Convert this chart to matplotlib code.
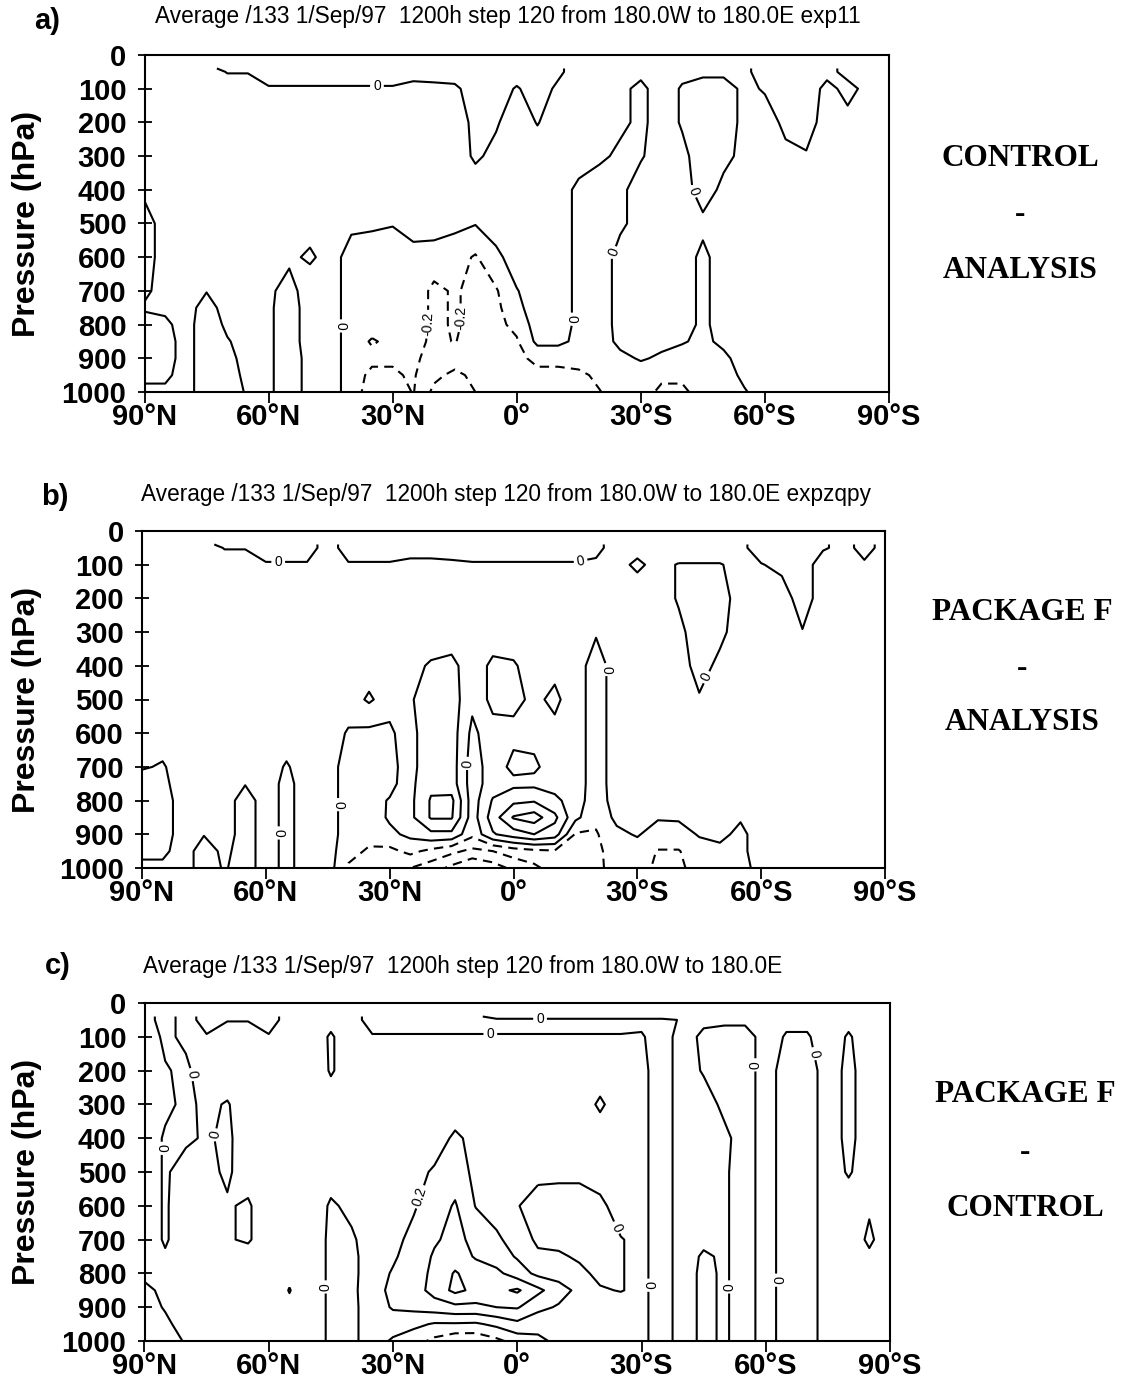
import numpy as np
import matplotlib
matplotlib.use("Agg")
import matplotlib.pyplot as plt

plt.rcParams['font.family'] = ['Liberation Sans', 'DejaVu Sans']
plt.rcParams['lines.dashed_pattern'] = [4.5, 3.0]

# ---------------------------------------------------------------
# zonal-mean difference fields, one list per latitude (90N .. 90S),
# values at the pressure levels below (hPa)
# ---------------------------------------------------------------
lats = [90, 85, 80, 75, 70, 65, 60, 55, 50, 45, 40, 35, 30, 25, 20, 15, 10, 5, 0,
        -5, -10, -15, -20, -25, -30, -35, -40, -45, -50, -55, -60, -65, -70, -75,
        -80, -85, -90]
pres = [40, 50, 100, 200, 300, 400, 500, 600, 700, 750, 800, 850, 900, 950, 1000]

# a) control - analysis
diff_a = [
    [0.05, 0.05, 0.05, 0.1, 0.1, 0.05, -0.1, -0.1, -0.05, 0.03, -0.1, -0.15, -0.1, -0.05, 0.05],   # 90N
    [0.05, 0.05, 0.05, 0.1, 0.1, 0.1, 0.1, 0.1, 0.1, 0.05, -0.05, -0.1, -0.1, -0.05, 0.05],
    [0.05, 0.05, 0.05, 0.1, 0.1, 0.1, 0.1, 0.1, 0.1, 0.1, 0.1, 0.1, 0.1, 0.1, 0.1],
    [0.05, 0.05, 0.05, 0.1, 0.1, 0.1, 0.1, 0.1, 0.01, -0.1, -0.15, -0.15, -0.15, -0.15, -0.15],
    [-0.05, -0.005, 0.05, 0.1, 0.1, 0.1, 0.1, 0.1, 0.1, 0.1, 0.05, -0.02, -0.08, -0.08, -0.08],
    [-0.05, -0.005, 0.05, 0.1, 0.1, 0.1, 0.1, 0.1, 0.1, 0.1, 0.1, 0.1, 0.1, 0.05, 0.02],
    [-0.05, -0.05, 0.01, 0.1, 0.1, 0.1, 0.1, 0.1, 0.05, 0.05, 0.05, 0.05, 0.05, 0.05, 0.05],      # 60N
    [-0.05, -0.05, 0.01, 0.1, 0.1, 0.1, 0.1, 0.05, -0.1, -0.15, -0.15, -0.15, -0.15, -0.15, -0.15],
    [-0.05, -0.05, 0.01, 0.1, 0.1, 0.1, 0.1, -0.04, 0.15, 0.15, 0.15, 0.15, 0.1, 0.1, 0.1],
    [-0.05, -0.05, 0.01, 0.1, 0.1, 0.1, 0.1, 0.1, 0.1, 0.1, 0.1, 0.1, 0.1, 0.1, 0.1],
    [-0.05, -0.05, 0.01, 0.1, 0.1, 0.1, 0.05, -0.1, -0.1, -0.1, -0.1, -0.1, -0.1, -0.1, -0.1],
    [-0.05, -0.05, 0.01, 0.1, 0.1, 0.1, 0.03, -0.1, -0.1, -0.1, -0.12, -0.22, -0.15, -0.25, -0.3],
    [-0.05, -0.05, 0.01, 0.1, 0.1, 0.1, 0.01, -0.1, -0.15, -0.12, -0.1, -0.15, -0.18, -0.22, -0.3],  # 30N
    [-0.05, -0.05, 0.04, 0.1, 0.1, 0.1, 0.06, -0.05, -0.1, -0.1, -0.1, -0.12, -0.15, -0.18, -0.19],
    [-0.05, -0.05, 0.03, 0.1, 0.1, 0.1, 0.1, -0.1, -0.24, -0.24, -0.24, -0.25, -0.3, -0.35, -0.45],
    [-0.05, -0.05, 0.02, 0.1, 0.1, 0.1, 0.05, -0.12, -0.18, -0.18, -0.18, -0.19, -0.3, -0.45, -0.5],
    [-0.05, -0.05, -0.05, -0.05, -0.03, 0.1, 0.01, -0.22, -0.25, -0.25, -0.25, -0.3, -0.3, -0.35, -0.4],
    [-0.05, -0.05, -0.05, -0.02, 0.05, 0.05, 0.1, -0.05, -0.22, -0.25, -0.25, -0.25, -0.25, -0.3, -0.3],
    [-0.05, -0.05, 0.01, 0.1, 0.1, 0.1, 0.1, 0.1, -0.01, -0.05, -0.15, -0.22, -0.25, -0.25, -0.25],   # EQ
    [-0.05, -0.05, -0.05, -0.01, 0.1, 0.1, 0.1, 0.1, 0.1, 0.1, 0.1, 0.05, -0.15, -0.25, -0.25],
    [-0.02, -0.02, 0.02, 0.1, 0.1, 0.1, 0.1, 0.1, 0.1, 0.1, 0.1, 0.05, -0.15, -0.25, -0.3],
    [0.05, 0.05, 0.05, 0.1, 0.1, -0.05, -0.05, -0.05, -0.05, -0.05, -0.05, -0.05, -0.1, -0.25, -0.3],
    [0.05, 0.05, 0.05, 0.1, 0.05, -0.15, -0.15, -0.15, -0.15, -0.15, -0.15, -0.1, -0.1, -0.15, -0.21],
    [0.05, 0.05, 0.05, 0.05, -0.05, -0.05, -0.05, 0.1, 0.1, 0.1, 0.1, 0.05, -0.05, -0.1, -0.1],
    [0.05, 0.05, -0.05, -0.05, -0.02, 0.1, 0.1, 0.1, 0.1, 0.1, 0.1, 0.1, 0.02, -0.1, -0.1],          # 30S
    [0.05, 0.05, 0.1, 0.1, 0.1, 0.1, 0.1, 0.1, 0.1, 0.1, 0.1, 0.05, -0.03, -0.15, -0.25],
    [0.05, 0.05, -0.02, -0.02, 0.05, 0.1, 0.1, 0.1, 0.1, 0.1, 0.1, 0.02, -0.1, -0.15, -0.25],
    [0.05, 0.05, -0.1, -0.1, -0.1, -0.1, 0.05, -0.05, -0.05, -0.05, -0.05, -0.05, -0.1, -0.1, -0.1],
    [0.05, 0.05, -0.1, -0.1, -0.05, 0.05, 0.1, 0.1, 0.1, 0.1, 0.1, 0.05, -0.05, -0.1, -0.1],
    [0.05, 0.05, 0.05, 0.05, 0.05, 0.1, 0.1, 0.1, 0.1, 0.1, 0.1, 0.1, 0.1, 0.05, -0.02],
    [-0.1, -0.1, -0.02, 0.1, 0.1, 0.1, 0.1, 0.1, 0.1, 0.1, 0.1, 0.1, 0.1, 0.1, 0.1],                 # 60S
    [-0.1, -0.1, -0.1, -0.05, 0.05, 0.1, 0.1, 0.1, 0.1, 0.1, 0.1, 0.1, 0.1, 0.1, 0.1],
    [-0.1, -0.1, -0.1, -0.1, 0.02, 0.1, 0.1, 0.1, 0.1, 0.1, 0.1, 0.1, 0.1, 0.1, 0.1],
    [-0.05, -0.05, 0.05, 0.1, 0.1, 0.1, 0.1, 0.1, 0.1, 0.1, 0.1, 0.1, 0.1, 0.1, 0.1],
    [0.05, 0.05, -0.05, 0.05, 0.1, 0.1, 0.1, 0.1, 0.1, 0.1, 0.1, 0.1, 0.1, 0.1, 0.1],
    [0.05, 0.05, 0.05, 0.1, 0.1, 0.1, 0.1, 0.1, 0.1, 0.1, 0.1, 0.1, 0.1, 0.1, 0.1],
    [0.05, 0.05, 0.05, 0.1, 0.1, 0.1, 0.1, 0.1, 0.1, 0.1, 0.1, 0.1, 0.1, 0.1, 0.1],                  # 90S
]

# b) package F - analysis
diff_b = [
    [0.05, 0.05, 0.05, 0.1, 0.1, 0.1, 0.1, 0.1, 0.02, -0.1, -0.1, -0.15, -0.1, -0.05, 0.05],     # 90N
    [0.05, 0.05, 0.05, 0.1, 0.1, 0.1, 0.1, 0.1, -0.02, -0.05, -0.1, -0.1, -0.1, -0.05, 0.05],
    [0.05, 0.05, 0.05, 0.1, 0.1, 0.1, 0.1, 0.1, 0.1, 0.1, 0.1, 0.1, 0.1, 0.1, 0.1],
    [0.05, 0.05, 0.05, 0.1, 0.1, 0.1, 0.1, 0.1, 0.1, 0.1, 0.1, 0.1, 0.01, -0.1, -0.1],
    [-0.05, -0.005, 0.05, 0.1, 0.1, 0.1, 0.1, 0.1, 0.1, 0.1, 0.1, 0.1, 0.1, 0.05, 0.02],
    [-0.05, -0.005, 0.05, 0.1, 0.1, 0.1, 0.1, 0.1, 0.1, 0.01, -0.1, -0.1, -0.1, -0.1, -0.1],
    [-0.05, -0.05, 0.01, 0.1, 0.1, 0.1, 0.1, 0.1, 0.1, 0.1, 0.1, 0.1, 0.1, 0.1, 0.1],            # 60N
    [-0.05, -0.05, 0.01, 0.1, 0.1, 0.1, 0.1, 0.1, -0.02, -0.06, -0.06, -0.06, -0.06, -0.06, -0.06],
    [-0.05, -0.05, 0.01, 0.1, 0.1, 0.1, 0.1, 0.1, 0.1, 0.1, 0.1, 0.1, 0.1, 0.1, 0.1],
    [0.05, 0.05, 0.05, 0.1, 0.1, 0.1, 0.1, 0.1, 0.1, 0.1, 0.1, 0.1, 0.1, 0.1, 0.1],
    [-0.05, -0.05, 0.01, 0.1, 0.1, 0.1, 0.1, -0.02, -0.1, -0.1, -0.1, -0.1, -0.1, -0.15, -0.22],
    [-0.05, -0.05, 0.01, 0.1, 0.1, 0.1, 0.23, -0.05, -0.1, -0.1, -0.1, -0.12, -0.15, -0.22, -0.25],
    [-0.05, -0.05, 0.01, 0.1, 0.1, 0.1, 0.1, -0.05, -0.1, -0.08, 0.02, 0.03, -0.05, -0.25, -0.32],  # 30N
    [-0.05, -0.05, 0.03, 0.1, 0.1, 0.15, 0.18, 0.15, 0.15, 0.15, 0.15, 0.15, 0.05, -0.15, -0.4],
    [-0.05, -0.05, 0.03, 0.1, 0.1, 0.22, 0.3, 0.3, 0.3, 0.35, 0.42, 0.42, 0.15, -0.25, -0.5],
    [-0.05, -0.05, 0.02, 0.1, 0.1, 0.25, 0.3, 0.3, 0.3, 0.3, 0.45, 0.42, 0.15, -0.35, -0.65],
    [-0.05, -0.05, 0.01, 0.1, 0.1, 0.1, 0.05, -0.05, -0.1, -0.1, -0.1, -0.1, -0.15, -0.45, -0.8],
    [-0.05, -0.05, 0.01, 0.1, 0.1, 0.24, 0.26, 0.12, 0.1, 0.1, 0.22, 0.3, 0.18, -0.4, -0.7],
    [-0.05, -0.05, 0.01, 0.1, 0.1, 0.22, 0.25, 0.15, 0.25, 0.15, 0.35, 0.62, 0.3, -0.3, -0.55],  # EQ
    [-0.05, -0.05, 0.01, 0.1, 0.1, 0.12, 0.16, 0.15, 0.23, 0.15, 0.38, 0.7, 0.4, -0.25, -0.45],
    [-0.05, -0.05, 0.01, 0.1, 0.1, 0.15, 0.24, 0.15, 0.12, 0.12, 0.25, 0.45, 0.3, -0.22, -0.3],
    [-0.05, -0.05, 0.01, 0.1, 0.1, 0.1, 0.1, 0.1, 0.1, 0.1, 0.1, 0.05, -0.22, -0.25, -0.25],
    [-0.03, -0.03, 0.02, 0.1, 0.02, -0.1, -0.1, -0.1, -0.1, -0.1, -0.12, -0.15, -0.22, -0.25, -0.25],
    [0.05, 0.05, 0.05, 0.1, 0.1, 0.1, 0.1, 0.1, 0.1, 0.1, 0.1, 0.05, -0.05, -0.1, -0.12],
    [0.05, 0.05, -0.03, 0.1, 0.1, 0.1, 0.1, 0.1, 0.1, 0.1, 0.1, 0.1, 0.02, -0.1, -0.1],          # 30S
    [0.05, 0.05, 0.05, 0.1, 0.1, 0.1, 0.1, 0.1, 0.1, 0.1, 0.1, 0.02, -0.1, -0.21, -0.25],
    [0.1, 0.1, -0.01, -0.02, 0.05, 0.1, 0.1, 0.1, 0.1, 0.1, 0.1, 0.03, -0.1, -0.21, -0.25],
    [0.1, 0.1, -0.01, -0.1, -0.1, -0.08, 0.02, 0.1, 0.1, 0.1, 0.1, 0.1, 0.02, -0.1, -0.1],
    [0.1, 0.1, -0.01, -0.1, -0.05, 0.05, 0.1, 0.1, 0.1, 0.1, 0.1, 0.1, 0.05, -0.05, -0.1],
    [0.05, 0.05, 0.05, 0.1, 0.1, 0.1, 0.1, 0.1, 0.1, 0.1, 0.1, 0.02, -0.05, -0.05, -0.05],
    [-0.1, -0.1, 0.01, 0.1, 0.1, 0.1, 0.1, 0.1, 0.1, 0.1, 0.1, 0.1, 0.1, 0.1, 0.05],             # 60S
    [-0.1, -0.1, -0.05, 0.1, 0.1, 0.1, 0.1, 0.1, 0.1, 0.1, 0.1, 0.1, 0.1, 0.1, 0.1],
    [-0.1, -0.1, -0.1, -0.1, 0.01, 0.1, 0.1, 0.1, 0.1, 0.1, 0.1, 0.1, 0.1, 0.1, 0.1],
    [-0.02, -0.02, 0.1, 0.1, 0.1, 0.1, 0.1, 0.1, 0.1, 0.1, 0.1, 0.1, 0.1, 0.1, 0.1],
    [0.05, 0.05, 0.1, 0.1, 0.1, 0.1, 0.1, 0.1, 0.1, 0.1, 0.1, 0.1, 0.1, 0.1, 0.1],
    [-0.05, -0.05, 0.02, 0.1, 0.1, 0.1, 0.1, 0.1, 0.1, 0.1, 0.1, 0.1, 0.1, 0.1, 0.1],
    [0.05, 0.05, 0.1, 0.1, 0.1, 0.1, 0.1, 0.1, 0.1, 0.1, 0.1, 0.1, 0.1, 0.1, 0.1],               # 90S
]

# c) package F - control
diff_c = [
    [0.05, 0.05, 0.15, 0.15, 0.15, 0.15, 0.15, 0.15, 0.15, 0.1, 0.05, -0.05, -0.1, -0.1, -0.1],   # 90N
    [-0.05, -0.05, -0.05, 0.02, 0.05, -0.03, -0.03, -0.03, -0.03, 0.03, 0.1, 0.05, 0.02, -0.05, -0.1],
    [0.05, 0.05, 0.05, -0.05, -0.05, -0.04, 0.1, 0.15, 0.15, 0.15, 0.15, 0.15, 0.15, 0.1, 0.02],
    [-0.05, -0.05, 0.01, 0.15, 0.05, 0.03, 0.05, 0.15, 0.15, 0.15, 0.15, 0.15, 0.15, 0.15, 0.15],
    [-0.05, -0.005, 0.05, 0.15, -0.02, -0.05, -0.03, 0.02, 0.02, 0.05, 0.1, 0.15, 0.15, 0.15, 0.15],
    [-0.05, -0.005, 0.05, 0.15, 0.15, 0.15, 0.1, -0.03, -0.03, 0.1, 0.15, 0.15, 0.15, 0.15, 0.15],
    [-0.05, -0.05, 0.01, 0.15, 0.15, 0.15, 0.15, 0.15, 0.15, 0.15, 0.15, 0.15, 0.15, 0.15, 0.15],  # 60N
    [0.05, 0.05, 0.1, 0.15, 0.15, 0.15, 0.15, 0.15, 0.15, 0.15, 0.05, -0.01, 0.05, 0.15, 0.15],
    [0.05, 0.05, 0.1, 0.15, 0.15, 0.15, 0.15, 0.15, 0.15, 0.15, 0.15, 0.15, 0.15, 0.15, 0.15],
    [0.05, 0.05, -0.02, -0.02, 0.1, 0.1, 0.1, -0.03, -0.05, -0.05, -0.05, -0.05, -0.05, -0.05, -0.05],
    [0.05, 0.05, 0.1, 0.1, 0.1, 0.1, 0.1, 0.05, -0.03, -0.05, -0.05, -0.05, -0.05, -0.05, -0.05],
    [-0.05, -0.05, 0.01, 0.1, 0.1, 0.1, 0.1, 0.1, 0.1, 0.1, 0.1, 0.12, 0.1, 0.1, 0.1],
    [-0.05, -0.05, 0.01, 0.1, 0.1, 0.1, 0.1, 0.12, 0.15, 0.17, 0.22, 0.25, 0.22, 0.1, -0.03],     # 30N
    [-0.05, -0.05, 0.01, 0.1, 0.1, 0.1, 0.15, 0.18, 0.25, 0.3, 0.3, 0.3, 0.25, 0.05, -0.12],
    [-0.05, -0.05, 0.01, 0.1, 0.1, 0.12, 0.22, 0.3, 0.38, 0.42, 0.45, 0.48, 0.3, -0.02, -0.25],
    [-0.05, -0.05, 0.01, 0.1, 0.1, 0.23, 0.3, 0.42, 0.45, 0.5, 0.62, 0.65, 0.35, -0.02, -0.35],
    [-0.05, -0.05, 0.01, 0.1, 0.1, 0.15, 0.15, 0.19, 0.35, 0.38, 0.5, 0.55, 0.35, -0.03, -0.35],
    [0.1, -0.05, 0.01, 0.1, 0.1, 0.1, 0.12, 0.15, 0.22, 0.3, 0.45, 0.55, 0.4, 0.05, -0.25],
    [0.1, -0.05, 0.01, 0.1, 0.1, 0.1, 0.1, 0.01, 0.15, 0.18, 0.3, 0.63, 0.42, 0.15, -0.12],       # EQ
    [0.1, -0.05, 0.01, 0.1, 0.1, 0.1, 0.05, -0.08, -0.05, 0.05, 0.15, 0.45, 0.25, 0.08, -0.05],
    [0.1, -0.05, 0.01, 0.1, 0.1, 0.1, 0.05, -0.1, -0.06, 0.03, 0.12, 0.28, 0.18, 0.1, 0.05],
    [0.1, -0.05, 0.01, 0.1, 0.1, 0.1, 0.05, -0.1, -0.1, -0.03, 0.05, 0.15, 0.1, 0.1, 0.05],
    [0.1, -0.05, 0.01, 0.1, -0.03, 0.1, 0.1, -0.05, -0.1, -0.1, -0.05, 0.02, 0.1, 0.1, 0.1],
    [0.1, -0.05, 0.01, 0.1, 0.1, 0.1, 0.1, 0.1, -0.01, -0.01, -0.01, -0.01, 0.1, 0.1, 0.1],
    [0.1, -0.05, 0.02, 0.05, 0.05, 0.05, 0.05, 0.05, 0.05, 0.05, 0.05, 0.05, 0.05, 0.05, 0.05],  # 30S
    [0.1, -0.05, -0.1, -0.1, -0.1, -0.1, -0.1, -0.1, -0.1, -0.1, -0.1, -0.1, -0.1, -0.1, -0.1],
    [0.02, 0.02, 0.1, 0.1, 0.1, 0.1, 0.1, 0.1, 0.1, 0.1, 0.1, 0.1, 0.1, 0.1, 0.1],
    [0.05, 0.05, -0.05, -0.02, 0.1, 0.1, 0.1, 0.1, 0.05, -0.03, -0.05, -0.05, -0.05, -0.05, -0.05],
    [0.05, 0.05, -0.1, -0.1, -0.05, 0.05, 0.03, 0.03, 0.03, 0.03, 0.03, 0.03, 0.03, 0.03, 0.03],
    [0.05, 0.05, -0.1, -0.1, -0.1, -0.1, -0.1, -0.1, -0.1, -0.1, -0.1, -0.1, -0.1, -0.1, -0.1],
    [0.05, 0.05, 0.1, 0.1, 0.1, 0.1, 0.1, 0.1, 0.1, 0.1, 0.1, 0.1, 0.1, 0.1, 0.1],               # 60S
    [0.05, 0.05, -0.02, -0.1, -0.1, -0.1, -0.1, -0.1, -0.1, -0.1, -0.1, -0.1, -0.1, -0.1, -0.1],
    [0.05, 0.05, -0.02, -0.1, -0.1, -0.1, -0.1, -0.1, -0.1, -0.1, -0.1, -0.1, -0.1, -0.1, -0.1],
    [0.05, 0.05, 0.1, 0.1, 0.1, 0.1, 0.1, 0.1, 0.1, 0.1, 0.1, 0.1, 0.1, 0.1, 0.1],
    [0.05, 0.05, -0.02, -0.05, -0.05, -0.05, -0.02, 0.1, 0.1, 0.1, 0.1, 0.1, 0.1, 0.1, 0.1],
    [0.05, 0.05, 0.1, 0.1, 0.1, 0.1, 0.1, 0.02, -0.03, 0.03, 0.1, 0.1, 0.1, 0.1, 0.1],
    [0.05, 0.05, 0.1, 0.1, 0.1, 0.1, 0.1, 0.1, 0.1, 0.1, 0.1, 0.1, 0.1, 0.1, 0.1],               # 90S
]

contour_levels = [-1.0, -0.8, -0.6, -0.4, -0.2, 0.0, 0.2, 0.4, 0.6, 0.8]
lat_ticks = [90, 60, 30, 0, -30, -60, -90]
lat_labels = ['90°N', '60°N', '30°N', '0°', '30°S', '60°S', '90°S']
p_ticks = [0, 100, 200, 300, 400, 500, 600, 700, 800, 900, 1000]

title_base = 'Average /133 1/Sep/97  1200h step 120 from 180.0W to 180.0E'

panels = [
    dict(field=diff_a, tag='a)', title=title_base + ' exp11',
         box=(144.5, 55, 889, 392), tag_xy=(47, 21), title_xy=(155, 16),
         side=['CONTROL', '-', 'ANALYSIS'], side_y=[158, 215, 270], side_x=1020,
         clab=[(33.8, 93), (42.2, 804), (-14.1, 784), (-23.4, 586), (-43.6, 400),
               (21.2, 799), (13.6, 780)]),
    dict(field=diff_b, tag='b)', title=title_base + ' expzqpy',
         box=(142, 531, 885, 868), tag_xy=(55, 497), title_xy=(141, 495),
         side=['PACKAGE F', '-', 'ANALYSIS'], side_y=[612, 668, 723], side_x=1022,
         clab=[(57, 92), (57.5, 896), (42.5, 812), (10.7, 690), (-16.3, 92),
               (-22.5, 411), (-46, 430)]),
    dict(field=diff_c, tag='c)', title=title_base,
         box=(144.5, 1003, 890, 1341), tag_xy=(58, 966), title_xy=(143, 967),
         side=['PACKAGE F', '-', 'CONTROL'], side_y=[1095, 1152, 1208], side_x=1025,
         clab=[(86.1, 430), (77.6, 210), (70.9, 395), (46.2, 840), (23.6, 573),
               (6.5, 92), (-5.5, 46), (-23.5, 667), (-30.8, 835), (-51.5, 840),
               (-57, 183), (-62.5, 820), (-72.5, 148)]),
]

W, H = 1135, 1381
fig = plt.figure(figsize=(W / 100, H / 100), dpi=100)


def fmt(v):
    return '{:g}'.format(round(v, 1) + 0.0)


for pnl in panels:
    left, top, right, bottom = pnl['box']
    ax = fig.add_axes([left / W, 1 - bottom / H, (right - left) / W, (bottom - top) / H])

    z = np.array(pnl['field']).T
    cs = ax.contour(lats, pres, z, levels=contour_levels, colors='k',
                    linewidths=1.5, negative_linestyles='dashed')
    ax.clabel(cs, manual=pnl['clab'], inline=True, inline_spacing=3,
              fontsize=10, fmt=fmt)

    ax.set_xlim(90, -90)
    ax.set_ylim(1000, 0)
    ax.set_xticks(lat_ticks)
    ax.set_xticklabels(lat_labels, fontsize=21, fontweight='bold')
    ax.set_yticks(p_ticks)
    ax.set_yticklabels([str(p) for p in p_ticks], fontsize=21, fontweight='bold')
    ax.tick_params(axis='x', direction='out', length=8, width=1.3, pad=0)
    ax.tick_params(axis='y', direction='inout', length=10, width=1.3, pad=8)
    for sp in ax.spines.values():
        sp.set_linewidth(1.5)

    # y-axis title
    fig.text(27 / W, 1 - (top + bottom) / 2 / H, 'Pressure (hPa)', rotation=90,
             ha='center', va='center', fontsize=23, fontweight='bold')

    # panel tag and run title
    fig.text(pnl['tag_xy'][0] / W, 1 - pnl['tag_xy'][1] / H, pnl['tag'],
             ha='center', va='center', fontsize=21, fontweight='bold')
    fig.text(pnl['title_xy'][0] / W, 1 - pnl['title_xy'][1] / H, pnl['title'],
             ha='left', va='center', fontsize=16.3)

    # experiment names on the right
    for s, y in zip(pnl['side'], pnl['side_y']):
        fig.text(pnl['side_x'] / W, 1 - y / H, s, ha='center', va='center',
                 fontsize=22.5, fontweight='bold', family='Liberation Serif')

fig.savefig('out.png', dpi=100)
